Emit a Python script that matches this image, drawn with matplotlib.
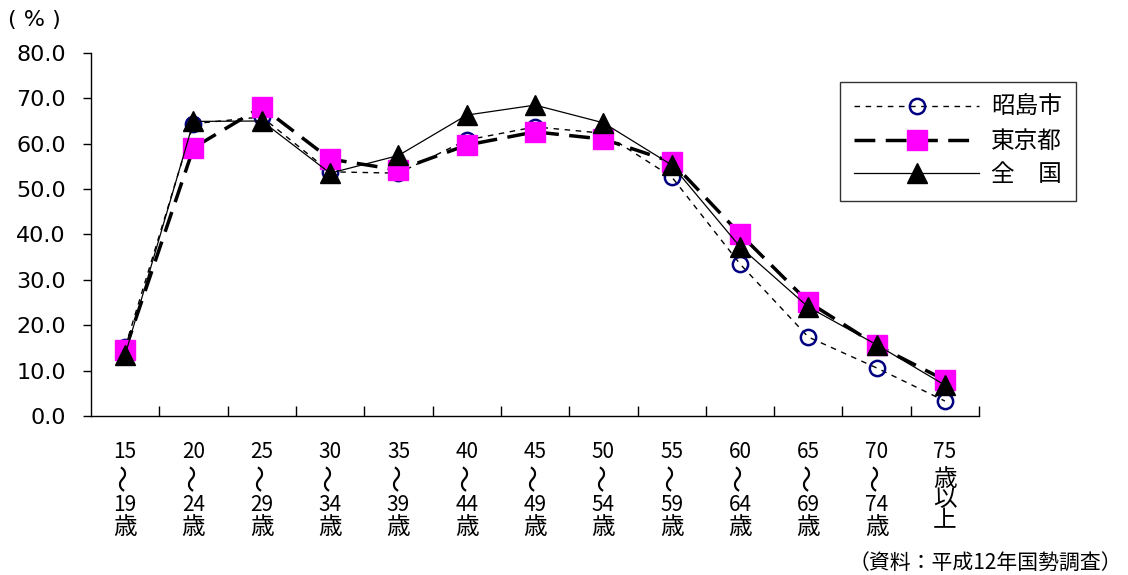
import matplotlib
matplotlib.use("Agg")
import matplotlib.pyplot as plt
import matplotlib.transforms as mtransforms

plt.rcParams['font.family'] = ['Noto Sans CJK JP', 'DejaVu Sans']

# age groups (start, end); last one is "75歳以上"
age_from = ["15", "20", "25", "30", "35", "40", "45", "50", "55", "60", "65", "70", "75"]
age_to = ["19", "24", "29", "34", "39", "44", "49", "54", "59", "64", "69", "74", None]

akishima = [15.2, 64.4, 65.9, 53.8, 53.5, 60.8, 63.7, 62.3, 52.7, 33.5, 17.4, 10.6, 3.3]
tokyo = [14.5, 59.1, 68.1, 56.6, 54.2, 59.7, 62.6, 61.0, 56.0, 40.1, 25.1, 15.6, 7.9]
zenkoku = [13.5, 64.9, 65.0, 53.5, 57.4, 66.3, 68.5, 64.6, 55.3, 37.3, 24.0, 15.7, 6.8]

fig = plt.figure(figsize=(11.28, 5.75), dpi=100)
ax = fig.add_axes([0.0807, 0.2765, 0.7873, 0.6315])

x = list(range(len(age_from)))

ax.plot(x, akishima, color="black", lw=1.0, ls=(0, (4, 4)),
        marker="o", ms=11, mfc="none", mec="#000080", mew=1.8, label="昭島市")
ax.plot(x, tokyo, color="black", lw=2.5, ls=(0, (6, 3)),
        marker="s", ms=15, mfc="#ff00ff", mec="#ff00ff", label="東京都")
ax.plot(x, zenkoku, color="black", lw=0.9, ls="-",
        marker="^", ms=15, mfc="black", mec="black", label="全　国")

ax.set_xlim(-0.5, len(x) - 0.5)
ax.set_ylim(0, 80)
ax.set_yticks(range(0, 81, 10))
ax.set_yticklabels([f"{v:.1f}" for v in range(0, 81, 10)], fontsize=16,
                   family="DejaVu Sans")
ax.tick_params(axis="y", direction="out", length=6, width=1, pad=12)

# x ticks sit between categories, pointing inward
ax.set_xticks([i + 0.5 for i in x[:-1]] + [len(x) - 0.5])
ax.set_xticklabels([])
ax.tick_params(axis="x", direction="in", length=7, width=1)
for s in ["top", "right"]:
    ax.spines[s].set_visible(False)
ax.spines["left"].set_linewidth(1)
ax.spines["bottom"].set_linewidth(1)

# vertical category labels
trans = mtransforms.blended_transform_factory(ax.transData, fig.transFigure)
for i, (a, b) in enumerate(zip(age_from, age_to)):
    ax.text(i, 1 - 452 / 575, a, transform=trans, ha="center", va="center",
            fontsize=15)
    if b is None:
        ax.text(i, 1 - 500 / 575, "歳\n以\n上", transform=trans, ha="center",
                va="center", fontsize=17, linespacing=0.85)
    else:
        ax.text(i, 1 - 477 / 575, "〜", transform=trans, ha="center",
                va="center", fontsize=20, rotation=90)
        ax.text(i, 1 - 505 / 575, b, transform=trans, ha="center",
                va="center", fontsize=15)
        ax.text(i, 1 - 528 / 575, "歳", transform=trans, ha="center",
                va="center", fontsize=17)

leg = ax.legend(loc="upper left", bbox_to_anchor=(840 / 1128, 1 - 82 / 575),
                bbox_transform=fig.transFigure, borderaxespad=0, fontsize=17,
                frameon=True, fancybox=False, edgecolor="black",
                handlelength=5.3, borderpad=0.6, labelspacing=0.45,
                handletextpad=0.5)
leg.get_frame().set_linewidth(1)

fig.text(8 / 1128, 1 - 20 / 575, "( % )", fontsize=16, ha="left", va="center",
         family="DejaVu Sans")
fig.text(1122 / 1128, 1 - 563 / 575, "（資料：平成12年国勢調査）", fontsize=15,
         ha="right", va="center")

fig.savefig("out.png", dpi=100)
